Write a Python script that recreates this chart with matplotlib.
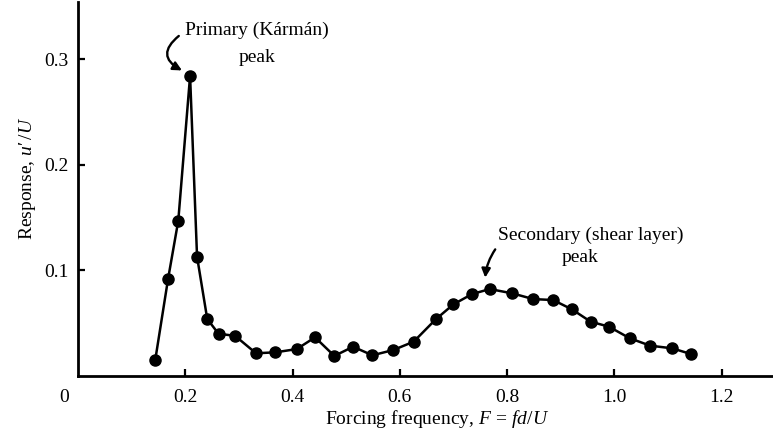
import matplotlib

matplotlib.use("Agg")

import matplotlib.pyplot as plt

# Forcing frequency F = fd/U and the measured response u'/U
forcing_freq = [
    0.144, 0.168, 0.187, 0.209, 0.222, 0.241, 0.262, 0.293, 0.332, 0.368,
    0.408, 0.442, 0.478, 0.513, 0.549, 0.588, 0.626, 0.667, 0.700, 0.735,
    0.768, 0.810, 0.849, 0.886, 0.921, 0.956, 0.990, 1.029, 1.067, 1.108,
    1.143,
]
response = [
    0.015, 0.092, 0.147, 0.284, 0.113, 0.054, 0.040, 0.038, 0.0215, 0.0224,
    0.0255, 0.0366, 0.019, 0.0277, 0.0196, 0.0246, 0.0325, 0.0536, 0.0678, 0.0776,
    0.0823, 0.0782, 0.0728, 0.0719, 0.0631, 0.0514, 0.0467, 0.0357, 0.0287, 0.0262,
    0.0208,
]
x_ticks = [0.2, 0.4, 0.6, 0.8, 1.0, 1.2]
x_tick_labels = ["0.2", "0.4", "0.6", "0.8", "1.0", "1.2"]
y_ticks = [0.1, 0.2, 0.3]
y_tick_labels = ["0.1", "0.2", "0.3"]

plt.rcParams["font.family"] = ["Liberation Serif", "DejaVu Serif"]
plt.rcParams["mathtext.fontset"] = "custom"
plt.rcParams["mathtext.rm"] = "Liberation Serif"
plt.rcParams["mathtext.it"] = "Liberation Serif:italic"

W, H = 773, 444
fig = plt.figure(figsize=(W / 100, H / 100), dpi=100)
ax = fig.add_axes([78 / W, 68 / H, 695 / W, 374 / H])

ax.plot(forcing_freq, response, color="black", lw=1.8, marker="o",
        markersize=8, markerfacecolor="black", markeredgecolor="black")

ax.set_xlim(0, 1.296)
ax.set_ylim(0, 0.354)
for side in ("top", "right"):
    ax.spines[side].set_visible(False)
for side in ("left", "bottom"):
    ax.spines[side].set_linewidth(2.0)

ax.set_xticks(x_ticks)
ax.set_xticklabels(x_tick_labels)
ax.set_yticks(y_ticks)
ax.set_yticklabels(y_tick_labels)
ax.tick_params(direction="in", length=5, width=1.6, labelsize=14)
ax.tick_params(axis="x", pad=9)
ax.tick_params(axis="y", pad=7)

# shared origin label at the corner, level with the x tick labels
ax.annotate("0", xy=(0, 0), xycoords="data", xytext=(-10, -9),
            textcoords="offset points", fontsize=14, ha="center", va="top")

fig.text(27 / W, 1 - 178 / H, "Response, $u{\\prime}\\,/U$", rotation=90,
         fontsize=14, ha="center", va="center")
fig.text(437 / W, 1 - 419 / H, "Forcing frequency, $F\\,=\\,fd/U$",
         fontsize=14, ha="center", va="center")

ax.text(0.333, 0.327, "Primary (Kármán)", fontsize=14, ha="center", va="center")
ax.text(0.333, 0.301, "peak", fontsize=14, ha="center", va="center")
ax.annotate("", xy=(0.1985, 0.2880), xytext=(0.192, 0.3235),
            arrowprops=dict(arrowstyle="-|>", color="black", lw=1.7,
                            mutation_scale=13,
                            connectionstyle="arc3,rad=0.8"))

ax.text(0.956, 0.133, "Secondary (shear layer)", fontsize=14, ha="center", va="center")
ax.text(0.936, 0.112, "peak", fontsize=14, ha="center", va="center")
ax.annotate("", xy=(0.759, 0.0905), xytext=(0.781, 0.122),
            arrowprops=dict(arrowstyle="-|>", color="black", lw=1.7,
                            mutation_scale=13,
                            connectionstyle="arc3,rad=0.15"))

fig.savefig("out.png", dpi=100)
